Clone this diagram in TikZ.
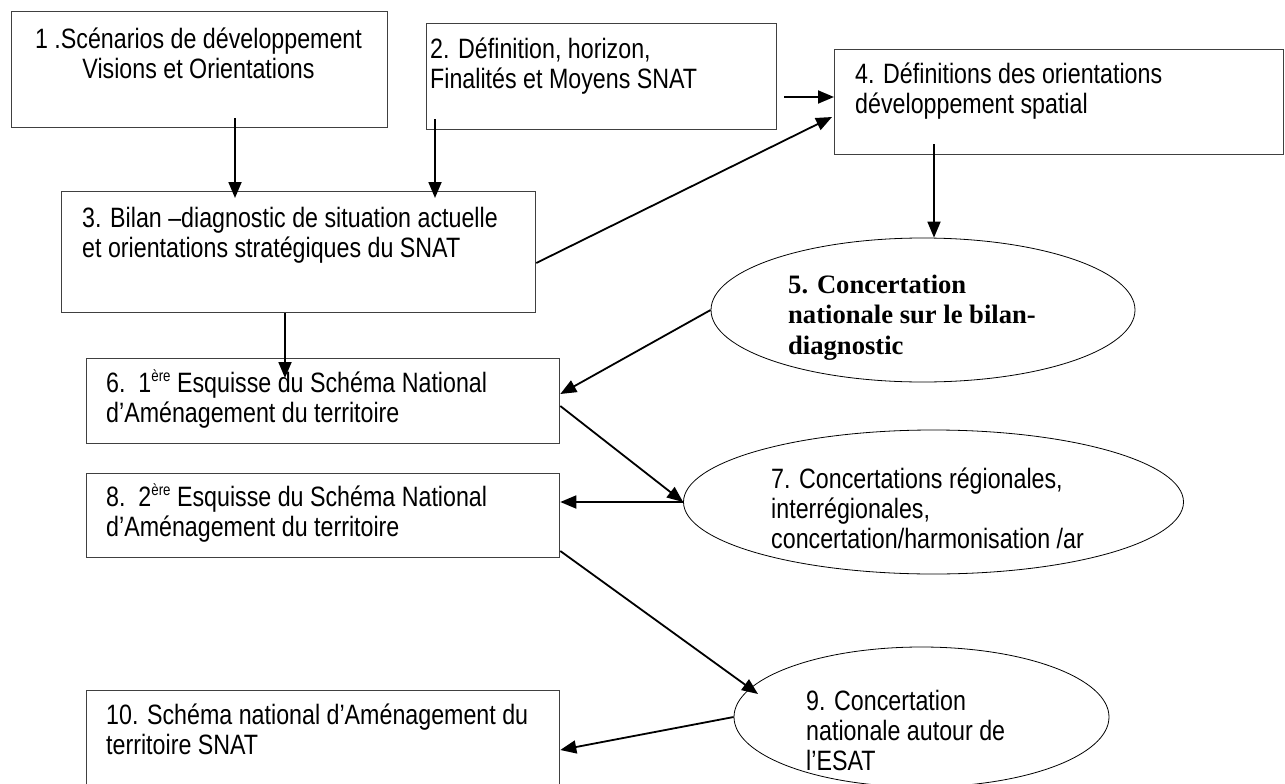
\documentclass[tikz,border=0pt]{standalone}
\usepackage{fontspec}
\setmainfont{Liberation Sans}[FakeStretch=0.83]
\newfontfamily\serifbold{Liberation Serif}
\usetikzlibrary{arrows.meta,shapes.geometric}
\newcommand\supx[1]{\raisebox{0.4em}{\fontsize{16}{16}\selectfont #1}}
\newcommand\tstrut{\rule{0pt}{26pt}}
\begin{document}
\begin{tikzpicture}[x=1pt,y=-1pt,
  box/.style={draw=black!75,line width=1.3pt,inner sep=0pt,anchor=north west},
  ell/.style={draw,ellipse,line width=0.8pt,inner sep=0pt},
  txt/.style={inner sep=0pt,anchor=north west,align=left,font=\fontsize{28}{30}\selectfont},
  btxt/.style={inner sep=0pt,anchor=north west,align=left,font=\serifbold\bfseries\fontsize{26.6}{30.5}\selectfont},
  arr/.style={line width=1.8pt,-{Triangle[length=16pt,width=13pt]}}]
\useasboundingbox (0,0) rectangle (1285,784);
\clip (0,0) rectangle (1285,784);
% boxes
\node[box,minimum width=376pt,minimum height=116pt] (b1) at (11,11) {};
\node[box,minimum width=350pt,minimum height=106pt] (b2) at (426,23) {};
\node[box,minimum width=474pt,minimum height=121pt] (b3) at (61,191) {};
\node[box,minimum width=449pt,minimum height=105pt] (b4) at (834,49) {};
\node[box,minimum width=473pt,minimum height=85pt] (b6) at (86,358) {};
\node[box,minimum width=473pt,minimum height=84pt] (b8) at (86,473) {};
\node[box,minimum width=473pt,minimum height=110pt] (b10) at (86,690) {};
% ellipses
\node[ell,minimum width=424pt,minimum height=144pt] (e5) at (923,310) {};
\node[ell,minimum width=500pt,minimum height=144pt] (e7) at (933.5,502) {};
\node[ell,minimum width=375pt,minimum height=140pt] (e9) at (921.5,717) {};
% texts
\node[txt,anchor=north,align=center] (t1) at (198.5,22) {\tstrut 1 .Scénarios de développement\\Visions et Orientations};
\node[txt] (t2) at (430,32) {\tstrut 2. Définition, horizon,\\Finalités et Moyens SNAT};
\node[txt] (t3) at (82,201) {\tstrut 3. Bilan –diagnostic de situation actuelle\\et orientations stratégiques du SNAT};
\node[txt] (t4) at (855,57) {\tstrut 4. Définitions des orientations\\développement spatial};
\node[btxt] (t5) at (788,267) {\tstrut 5. Concertation\\nationale sur le bilan-\\diagnostic};
\node[txt] (t6) at (106,366) {\tstrut 6.\ \ 1\supx{ère} Esquisse du Schéma National\\d’Aménagement du territoire};
\node[txt] (t7) at (771,462) {\tstrut 7. Concertations régionales,\\interrégionales,\\concertation/harmonisation /ar};
\node[txt] (t8) at (106,480) {\tstrut 8.\ \ 2\supx{ère} Esquisse du Schéma National\\d’Aménagement du territoire};
\node[txt] (t9) at (806,684) {\tstrut 9. Concertation\\nationale autour de\\l’ESAT};
\node[txt] (t10) at (106,698) {\tstrut 10. Schéma national d’Aménagement du\\territoire SNAT};
% helper coordinates
\coordinate (x235) at (235,0);
\coordinate (x435) at (435,0);
\coordinate (x934) at (934,0);
\coordinate (x285) at (285,0);
\coordinate (y97) at (0,97);
\coordinate (y117) at (0,117);
\coordinate (y263) at (0,263);
\coordinate (y394) at (0,394);
\coordinate (y406) at (0,406);
\coordinate (y551) at (0,551);
\coordinate (y750) at (0,750);
\coordinate (p9) at (758,694);
% connectors
\draw[arr] ([yshift=10pt]b1.south -| x235) -- ([yshift=-7pt]b3.north -| x235);
\draw[arr] ([yshift=11pt]b2.south -| x435) -- ([yshift=-7pt]b3.north -| x435);
\draw[arr] ([xshift=7pt]b2.east |- y97) -- (b4.west |- y97);
\draw[arr] (b3.east |- y263) -- ([xshift=-2pt]b4.west |- y117);
\draw[arr] ([yshift=11pt]b4.south -| x934) -- (x934 |- e5.north);
\draw[arr] (e5.west) -- (b6.east |- y394);
\draw[arr] (b3.south -| x285) -- ([yshift=-20pt]b6.north -| x285);
\draw[arr] (b6.east |- y406) -- (e7.west);
\draw[arr] (e7.west) -- (b8.east |- e7.west);
\draw[arr] (b8.east |- y551) -- (p9);
\draw[arr] (e9.west) -- (b10.east |- y750);
\end{tikzpicture}
\end{document}
